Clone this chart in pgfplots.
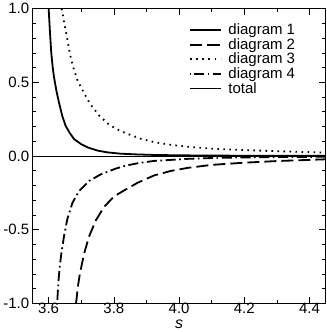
\documentclass[border=0pt]{standalone}
\usepackage{fontspec}
\setmainfont{Liberation Sans}
\usepackage{pgfplots}
\pgfplotsset{compat=1.18}

\begin{document}
\begin{tikzpicture}
\begin{axis}[
  scale only axis,
  width=292bp, height=294bp,
  xmin=3.551, xmax=4.449,
  ymin=-1, ymax=1,
  xtick={3.6,3.8,4.0,4.2,4.4},
  ytick={-1,-0.5,0,0.5,1},
  minor x tick num=1,
  minor y tick num=4,
  tick align=inside,
  major tick length=6.5bp,
  minor tick length=3.3bp,
  every tick/.style={black, line width=0.7bp},
  axis line style={line width=1.2bp},
  xticklabel style={yshift=3.5bp, /pgf/number format/.cd, fixed, fixed zerofill, precision=1, assume math mode=true},
  yticklabel style={/pgf/number format/.cd, fixed, fixed zerofill, precision=1, assume math mode=true},
  tick label style={font=\fontsize{15}{17}\selectfont},
  xlabel={\fontsize{16}{18}\selectfont\itshape s},
  xlabel style={yshift=1bp},
  legend cell align=left,
  legend style={draw=none, fill=none, at={(0.535,0.962)}, anchor=north west,
    inner xsep=0bp, row sep=-1.8bp,
    nodes={font=\fontsize{15}{16}\selectfont}},
  legend image code/.code={\draw[#1] (0bp,0bp) -- (30bp,0bp);},
]

% diagram 1
\addplot[black, line width=1.8bp] coordinates {
  (3.600,1.0) (3.604,0.84) (3.608,0.70) (3.612,0.61) (3.616,0.54)
  (3.624,0.44) (3.632,0.36) (3.642,0.27) (3.652,0.205) (3.665,0.155)
  (3.678,0.115) (3.700,0.080) (3.720,0.058) (3.750,0.037) (3.780,0.025)
  (3.820,0.016) (3.870,0.011) (3.930,0.007) (4.000,0.005) (4.100,0.003)
  (4.250,0.002) (4.450,0.001)
};
\addlegendentry{\hspace{5bp}diagram 1}

% diagram 2
\addplot[black, line width=1.8bp, dash pattern=on 12bp off 5bp] coordinates {
  (3.684,-1.0) (3.690,-0.88) (3.696,-0.795) (3.709,-0.66) (3.724,-0.545)
  (3.745,-0.435) (3.770,-0.345) (3.800,-0.275) (3.830,-0.235) (3.873,-0.181)
  (3.924,-0.131) (3.975,-0.101) (4.027,-0.080) (4.100,-0.060) (4.200,-0.045)
  (4.300,-0.034) (4.450,-0.022)
};
\addlegendentry{\hspace{5bp}diagram 2}

% diagram 3
\addplot[black, line width=1.8bp, dash pattern=on 1.6bp off 4.4bp] coordinates {
  (3.640,1.0) (3.647,0.91) (3.655,0.82) (3.666,0.685) (3.675,0.605)
  (3.688,0.515) (3.707,0.433) (3.727,0.354) (3.755,0.274) (3.786,0.212)
  (3.818,0.172) (3.840,0.152) (3.883,0.117) (3.924,0.094) (3.975,0.076)
  (4.027,0.063) (4.110,0.048) (4.270,0.035) (4.450,0.023)
};
\addlegendentry{\hspace{5bp}diagram 3}

% diagram 4
\addplot[black, line width=1.8bp, dash pattern=on 10bp off 3.5bp on 1.7bp off 3.5bp, dash phase=15bp] coordinates {
  (3.626,-1.0) (3.630,-0.85) (3.634,-0.75) (3.639,-0.66) (3.647,-0.545)
  (3.657,-0.43) (3.673,-0.317) (3.693,-0.238) (3.724,-0.169) (3.760,-0.124)
  (3.806,-0.085) (3.837,-0.065) (3.880,-0.046) (3.924,-0.033) (4.027,-0.019)
  (4.120,-0.012) (4.250,-0.008) (4.450,-0.005)
};
\addlegendentry{\hspace{5bp}diagram 4}

% total
\addplot[black, line width=0.8bp] coordinates {
  (3.551,0.0) (4.449,0.0)
};
\addlegendentry{\hspace{5bp}total}

\end{axis}
\end{tikzpicture}
\end{document}
